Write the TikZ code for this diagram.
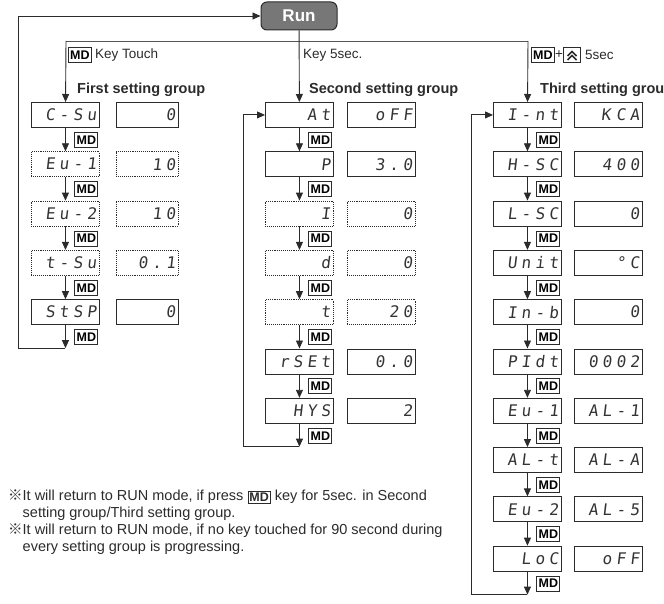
\documentclass[tikz,border=0pt]{standalone}
\usepackage{fontspec}
\setmainfont{Liberation Sans}
\newfontfamily\segfont[FakeSlant=0.12,LetterSpace=26]{DejaVu Sans Mono}
\newfontfamily\cjkfont{Noto Sans CJK JP}
\usetikzlibrary{arrows.meta,calc}
\definecolor{lc}{HTML}{2b2b2b}
\definecolor{tc}{HTML}{333333}
\definecolor{runfill}{HTML}{777777}
\newcommand\mdinl{{\setlength\fboxsep{1pt}\setlength\fboxrule{0.9pt}\raisebox{-1.5pt}{\fbox{\fontsize{12.5}{12.5}\selectfont\bfseries MD}}}}
\begin{document}
\begin{tikzpicture}[x=1pt,y=-1pt,
  ln/.style={draw=lc, line width=0.9pt},
  arr/.style={ln, -{Triangle[width=7pt,length=8pt]}},
  disp/.style={draw=lc, line width=0.9pt, minimum height=25pt, inner ysep=0pt, inner xsep=3pt, align=right, font=\segfont\fontsize{16}{16}\selectfont, text=tc, anchor=north west},
  wn/.style={disp, text width=62pt},
  wv1/.style={disp, text width=56pt},
  wv/.style={disp, text width=62pt},
  plainb/.style={},
  dotb/.style={densely dotted},
  mdkey/.style={draw=lc, line width=0.9pt, font=\bfseries\fontsize{12.5}{12.5}\selectfont, inner sep=0.5pt, minimum width=23pt, minimum height=15pt, anchor=west},
  lab/.style={font=\fontsize{13.5}{13.5}\selectfont, inner sep=0pt, anchor=west, text=lc},
  ttl/.style={font=\bfseries\fontsize{14.5}{14.5}\selectfont, inner sep=0pt, anchor=west, text=lc},
  note/.style={font=\fontsize{14.5}{14.5}\selectfont, inner sep=0pt, anchor=base west, text=lc},
  runb/.style={draw=lc, fill=runfill, rounded corners=6pt, line width=1pt, minimum width=76pt, minimum height=28pt, text=white, font=\bfseries\fontsize{17}{17}\selectfont}
]
\useasboundingbox (0,0) rectangle (664,604);

% Run
\node[runb] (run) at (299,16) {Run};

% First group
\foreach \n/\v/\s [count=\c from 0] in {C-Su/0/plainb, Eu-1/10/dotb, Eu-2/10/dotb, t-Su/0.1/dotb, StSP/0/plainb} {
  \node[wn,\s] (a\c) at (31,{102+49.3*\c}) {\n};
  \node[wv1,\s] (av\c) at (116,{102+49.3*\c}) {\v};
}
% Second group
\foreach \n/\v/\s [count=\c from 0] in {At/oFF/plainb, P/3.0/plainb, I/0/dotb, d/0/dotb, t/20/dotb, rSEt/0.0/plainb, HYS/2/plainb} {
  \node[wn,\s] (b\c) at (265,{102+49.3*\c}) {\n};
  \node[wv,\s] (bv\c) at (347,{102+49.3*\c}) {\v};
}
% Third group
\foreach \n/\v [count=\c from 0] in {I-nt/K CA, H-SC/400, L-SC/0, Unit/°C, In-b/0, PIdt/0002, Eu-1/AL-1, AL-t/AL-A, Eu-2/AL-5, LoC/oFF} {
  \node[wn] (c\c) at (493,{102+49.3*\c}) {\n};
  \node[wv] (cv\c) at (574,{102+49.3*\c}) {\v};
}

% chains
\foreach \g/\last in {a/4,b/6,c/9} {
  \foreach \c in {0,...,\last} {
    \node[mdkey] (\g m\c) at ($(\g\c.south)+(9,12)$) {MD};
  }
  \pgfmathtruncatemacro\pen{\last-1}
  \foreach \c in {0,...,\pen} {
    \pgfmathtruncatemacro\d{\c+1}
    \draw[arr] (\g\c) -- (\g\d);
  }
  \coordinate (\g e) at ($(\g\last.south)+(0,23)$);
  \draw[arr] (\g\last) -- (\g e);
}

% loops
\coordinate (l1) at (18,0);
\coordinate (l2) at (243,0);
\coordinate (l3) at (471,0);
\draw[arr] (ae) -- (ae -| l1) |- (run.west);
\draw[arr] (be) -- (be -| l2) |- (b0.west);
\draw[arr] (ce) -- (ce -| l3) |- (c0.west);

% branch
\coordinate (h1) at (66,41);
\coordinate (h3) at (528,41);
\draw[ln, draw=lc!80] (h1) -- (h3);
\draw[arr] (h1) -- (a0);
\draw[arr] (run) -- (b0);
\draw[arr] (h3) -- (c0);

% labels
\node[mdkey] (k1) at (68,55) {MD};
\node[lab] (t1) at (95,55) {Key Touch};
\node[lab] (t2) at (303,55) {Key 5sec.};
\node[mdkey] (k3) at (531,55) {MD};
\node[lab] (pl) at (555,55) {+};
\node[draw=lc, line width=0.9pt, minimum width=17pt, minimum height=15pt, inner sep=0pt] (uk) at (572,55) {};
\draw[lc, line width=1.5pt] ($(uk.center)+(-4.5,1)$) -- ($(uk.center)+(0,-3.5)$) -- ($(uk.center)+(4.5,1)$);
\draw[lc, line width=1.5pt] ($(uk.center)+(-4.5,5)$) -- ($(uk.center)+(0,0.5)$) -- ($(uk.center)+(4.5,5)$);
\node[lab] (t3) at (585,55) {5sec};

% titles
\node[ttl] (g1) at (77,90) {First setting group};
\node[ttl] (g2) at (309,90) {Second setting group};
\node[ttl] (g3) at (540,90) {Third setting group};

% notes
\node[note] (n1) at (8,500) {{\cjkfont ※}It will return to RUN mode, if press \mdinl\ key for 5sec. in Second};
\node[note] (n2) at (22.5,517) {setting group/Third setting group.};
\node[note] (n3) at (8,534) {{\cjkfont ※}It will return to RUN mode, if no key touched for 90 second during};
\node[note] (n4) at (22.5,551) {every setting group is progressing.};
\end{tikzpicture}
\end{document}
